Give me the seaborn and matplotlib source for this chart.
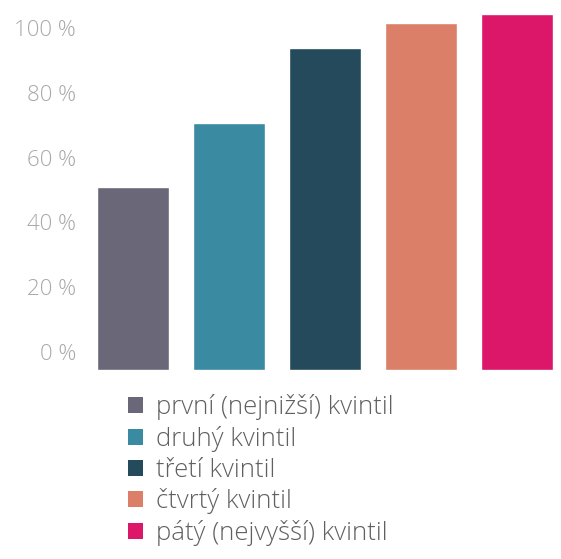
import matplotlib
matplotlib.use("Agg")
import matplotlib.pyplot as plt
from matplotlib.transforms import ScaledTranslation
from matplotlib.patches import Patch
import seaborn as sns
import pandas as pd

categories = ["první (nejnižší) kvintil", "druhý kvintil", "třetí kvintil",
              "čtvrtý kvintil", "pátý (nejvyšší) kvintil"]
values = [56.5, 76.2, 99.4, 107.0, 110.0]
colors = ["#6a6778", "#3a8aa2", "#244a5c", "#dc7f68", "#dc1669"]
tick_values = [0, 20, 40, 60, 80, 100]
tick_labels = ["0 %", "20 %", "40 %", "60 %", "80 %", "100 %"]

sns.set_theme(style="white")
plt.rcParams["font.family"] = ["Open Sans", "DejaVu Sans"]

df = pd.DataFrame({"cat": categories, "val": values})

W, H = 561, 559
fig = plt.figure(figsize=(W / 100, H / 100), dpi=100)
ax = fig.add_axes([85 / W, (H - 370) / H, 476 / W, 370 / H])

sns.barplot(data=df, x="cat", y="val", hue="cat", palette=colors,
            order=categories, hue_order=categories, width=0.75,
            dodge=False, legend=False, ax=ax, saturation=1)

ax.set_xlim(-0.5, 4.46)
ax.set_ylim(0, 114.2)
ax.set_xlabel("")
ax.set_ylabel("")
ax.set_xticks([])
ax.set_yticks(tick_values)
ax.set_yticklabels(tick_labels, color="#a8a8a8", fontsize=16, fontweight="light")
ax.tick_params(axis="y", length=0, pad=6.5)
for lab in ax.get_yticklabels():
    lab.set_transform(lab.get_transform() + ScaledTranslation(0, 0.18, fig.dpi_scale_trans))
for s in ax.spines.values():
    s.set_visible(False)

handles = [Patch(facecolor=c, edgecolor="none") for c in colors]
leg = fig.legend(handles, categories, loc="upper left",
                 bbox_to_anchor=(118 / W, 1 - 384 / H), frameon=False,
                 prop={"size": 18.5, "weight": "light"},
                 handlelength=0.58, handleheight=0.58,
                 handletextpad=0.5, labelspacing=0.22, borderaxespad=0)
for t in leg.get_texts():
    t.set_color("#606060")

fig.savefig("out.png", dpi=100)
